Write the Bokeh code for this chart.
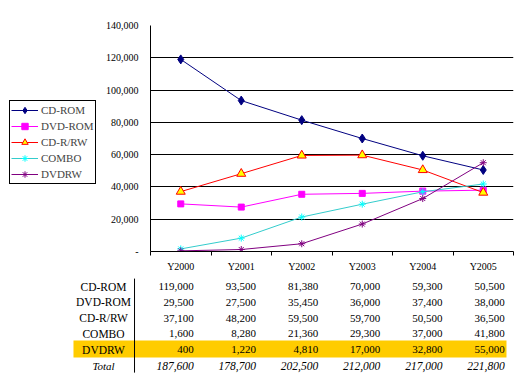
from bokeh.plotting import figure
from bokeh.models import (Range1d, FixedTicker, NumeralTickFormatter, ColumnDataSource,
                          Legend, LegendItem)
from bokeh.layouts import row
from bokeh.core.properties import value
from bokeh.embed import file_html
from bokeh.resources import INLINE

years = ["Y2000", "Y2001", "Y2002", "Y2003", "Y2004", "Y2005"]
cd_rom = [119000, 93500, 81380, 70000, 59300, 50500]
dvd_rom = [29500, 27500, 35450, 36000, 37400, 38000]
cd_rw = [37100, 48200, 59500, 59700, 50500, 36500]
combo = [1600, 8280, 21360, 29300, 37000, 41800]
dvdrw = [400, 1220, 4810, 17000, 32800, 55000]
names = ["CD-ROM", "DVD-ROM", "CD-R/RW", "COMBO", "DVDRW"]
y_ticks = [0, 20000, 40000, 60000, 80000, 100000, 120000, 140000]

series = [cd_rom, dvd_rom, cd_rw, combo, dvdrw]
totals = [sum(v) for v in zip(*series)]

styles = [
    dict(line="#000080", marker="diamond", fill="#000080", mline="#000080", size=9),
    dict(line="#FF00FF", marker="square", fill="#FF00FF", mline="#FF00FF", size=6),
    dict(line="#FF0000", marker="triangle", fill="#FFFF00", mline="#FF0000", size=9),
    dict(line="#33CCCC", marker="asterisk", fill="#00FFFF", mline="#00FFFF", size=7),
    dict(line="#800080", marker="asterisk", fill="#800080", mline="#800080", size=7),
]

FONT = value("Liberation Serif")
W = 532
LW = 102                     # legend column width
left_b, right_b = 150, 19    # chart frame borders
top_b, frame_h, bot_b = 25, 226, 26
n = len(years)
xs = list(range(n))
H1 = top_b + frame_h + bot_b

def draw_series(fig):
    rs = []
    for vals, st in zip(series, styles):
        src = ColumnDataSource(dict(x=xs, y=vals))
        r1 = fig.line("x", "y", source=src, line_color=st["line"], line_width=1)
        r2 = fig.scatter("x", "y", source=src, marker=st["marker"], size=st["size"],
                         fill_color=st["fill"], line_color=st["mline"])
        rs.append((r1, r2))
    return rs

# ---- chart
p1 = figure(width=W - LW, height=H1, x_range=Range1d(-0.5, n - 0.5), y_range=Range1d(0, 140000),
            output_backend="svg", toolbar_location=None,
            min_border_left=left_b - LW, min_border_right=right_b, min_border_top=top_b,
            min_border_bottom=bot_b)
p1.outline_line_color = None

p1.yaxis.ticker = FixedTicker(ticks=y_ticks)
p1.yaxis.formatter = NumeralTickFormatter(format="0,0")
p1.yaxis.major_label_overrides = {0: "-"}
p1.yaxis.major_tick_out = 0
p1.yaxis.major_tick_in = 0
p1.yaxis.minor_tick_out = 0
p1.yaxis.minor_tick_in = 0
p1.yaxis.major_label_standoff = 12
p1.yaxis.major_label_text_font = "Liberation Serif"
p1.yaxis.major_label_text_font_size = "10px"
p1.yaxis.major_label_text_color = "black"
p1.yaxis.axis_line_color = "black"

p1.xaxis.ticker = FixedTicker(ticks=xs, minor_ticks=[i - 0.5 for i in range(n + 1)])
p1.xaxis.major_label_overrides = {i: y for i, y in enumerate(years)}
p1.xaxis.major_tick_in = 0
p1.xaxis.major_tick_out = 0
p1.xaxis.minor_tick_in = 0
p1.xaxis.minor_tick_out = 4
p1.xaxis.minor_tick_line_color = "black"
p1.xaxis.major_label_text_font = "Liberation Serif"
p1.xaxis.major_label_text_font_size = "10px"
p1.xaxis.major_label_text_color = "black"
p1.xaxis.major_label_standoff = 5
p1.xaxis.axis_line_color = "black"

p1.xgrid.visible = False
p1.ygrid.ticker = FixedTicker(ticks=y_ticks)
p1.ygrid.grid_line_color = "black"
p1.ygrid.grid_line_alpha = 1.0

draw_series(p1)

# ---- legend column (its own renderers lie outside its visible range)
pl = figure(width=LW, height=H1, x_range=Range1d(100, 101), y_range=Range1d(0, 1),
            output_backend="svg", toolbar_location=None, min_border=0)
pl.outline_line_color = None
pl.axis.visible = False
pl.grid.visible = False
leg_rs = draw_series(pl)
items = [LegendItem(label=nm, renderers=list(rr)) for nm, rr in zip(names, leg_rs)]
lg = Legend(items=items, location=(9, 67))
lg.border_line_color = "black"
lg.border_line_width = 1
lg.border_line_alpha = 1
lg.padding = 1
lg.margin = 0
lg.spacing = 0
lg.glyph_width = 27
lg.glyph_height = 16
lg.label_height = 16
lg.label_standoff = 3
lg.label_text_font = "Liberation Serif"
lg.label_text_font_size = "11px"
lg.label_text_baseline = "middle"
lg.background_fill_color = "white"
lg.background_fill_alpha = 1
pl.add_layout(lg, "center")

top = row(pl, p1, spacing=0)

# ---- table
unit = (W - left_b - right_b) / n
H2 = 384 - H1
pitch = 15.8
top_off = 9
p2 = figure(width=W, height=H2,
            x_range=Range1d(-0.5 - left_b / unit, n - 0.5 + right_b / unit),
            y_range=Range1d((H2 - top_off) / pitch, -top_off / pitch),
            output_backend="svg", toolbar_location=None, min_border=0)
p2.outline_line_color = None
p2.axis.visible = False
p2.grid.visible = False

hl_row = 4
p2.quad(left=[-1.773], right=[5.384], top=[hl_row - 0.58], bottom=[hl_row + 0.5],
        fill_color="#FFCC00", line_color=None)

p2.segment(x0=[-0.764], x1=[-0.764], y0=[-0.5], y1=[5.45], line_color="black", line_width=1)

label_x = -1.277
p2.text(x=[label_x] * len(names), y=list(range(len(names))), text=names, text_align="center",
        text_baseline="middle", text_font=FONT, text_font_size="11.5px", text_color="black")
p2.text(x=[label_x], y=[len(names)], text=["Total"], text_align="center",
        text_baseline="middle", text_font=FONT, text_font_size="11px", text_font_style="italic",
        text_color="black")

col_x = [0.215 + 1.028 * i for i in range(n)]
for r, vals in enumerate(series):
    p2.text(x=col_x, y=[r] * n, text=[f"{v:,}" for v in vals], text_align="right",
            text_baseline="middle", text_font=FONT, text_font_size="11px", text_color="black")
p2.text(x=col_x, y=[len(series)] * n, text=[f"{v:,}" for v in totals], text_align="right",
        text_baseline="middle", text_font=FONT, text_font_size="11.5px", text_font_style="italic",
        text_color="black")

open("out.html", "w").write(file_html([top, p2], INLINE))
